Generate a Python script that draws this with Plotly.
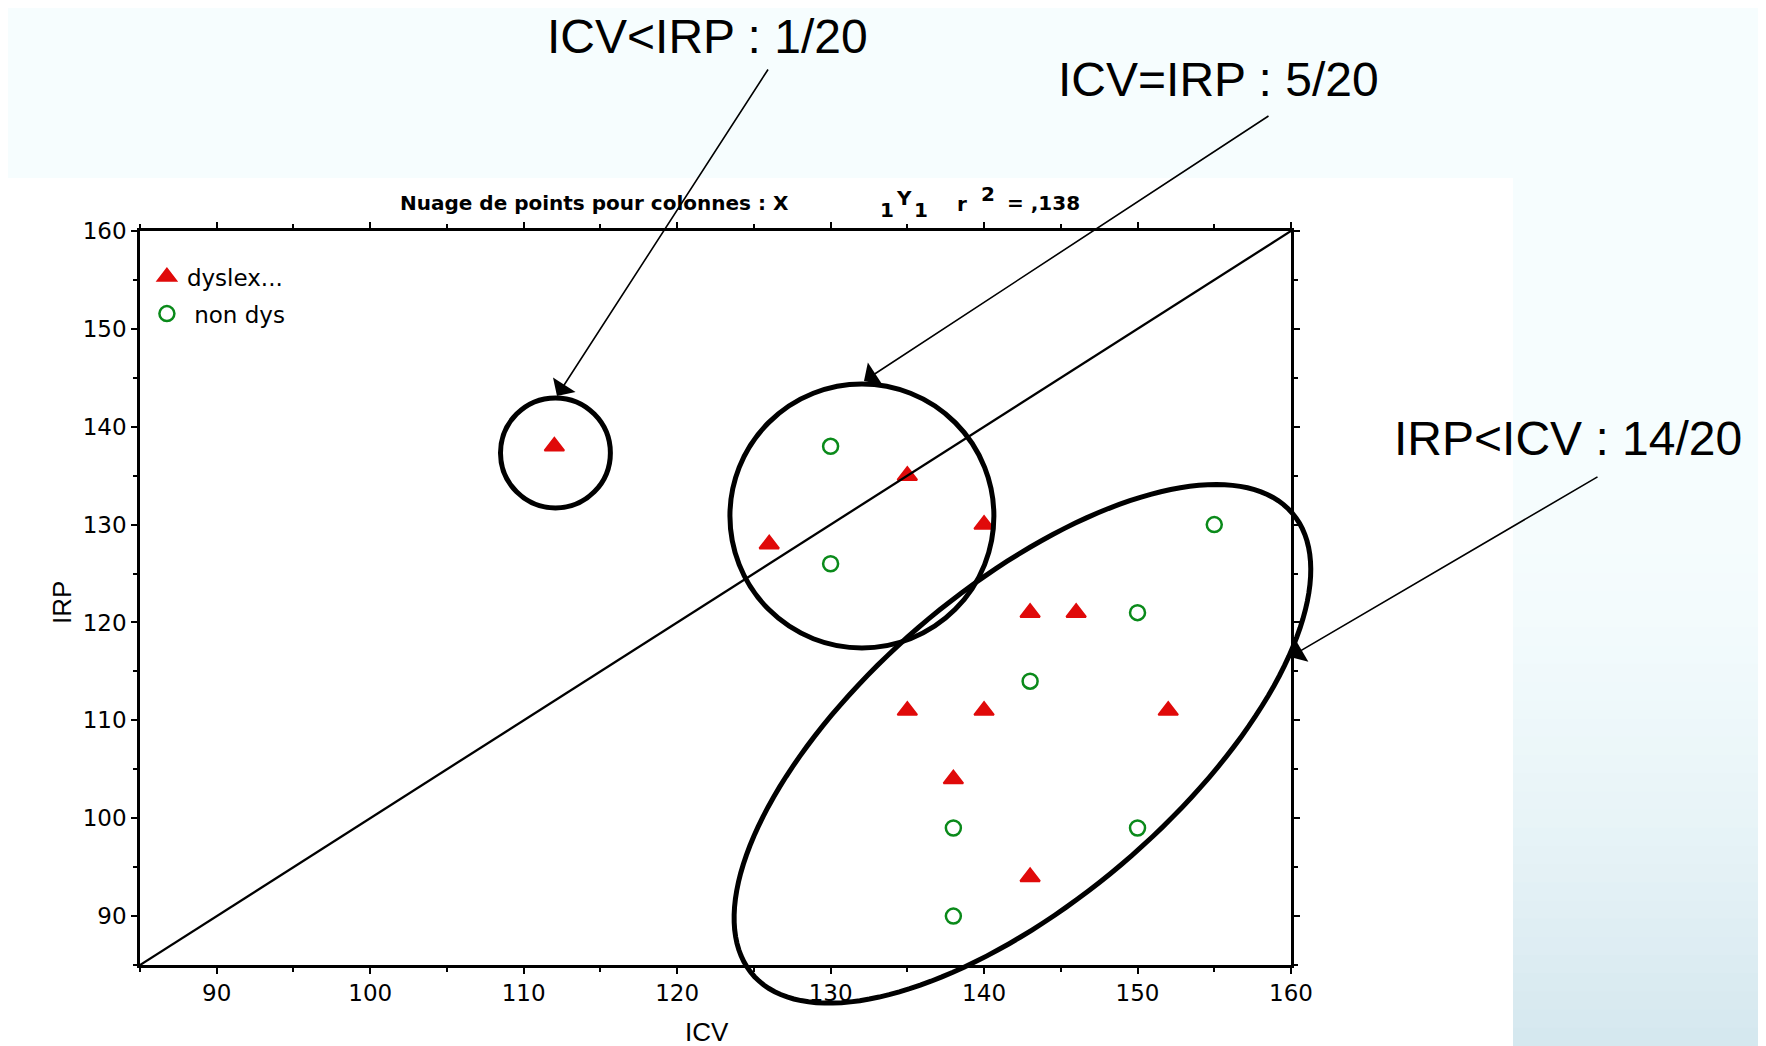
import numpy as np
import plotly.graph_objects as go

# data
dys_icv = [112, 126, 135, 140, 143, 146, 135, 140, 152, 138, 143]
dys_irp = [138, 128, 135, 130, 121, 121, 111, 111, 111, 104, 94]
non_icv = [130, 130, 155, 150, 143, 138, 150, 138]
non_irp = [138, 126, 130, 121, 114, 99, 99, 90]

x_ticks = [90, 100, 110, 120, 130, 140, 150, 160]
y_ticks = [90, 100, 110, 120, 130, 140, 150, 160]
axis_range = [85, 160]

# page has an 8px body margin, so the figure is a bit smaller than the window
OFF = 8
PAGE_W, PAGE_H = 1766, 1046
W, H = PAGE_W - OFF, PAGE_H - OFF
PL, PT, PR, PB = 140, 231, 1291, 965   # plot area in page pixels
L, T = PL - OFF, PT - OFF
R, B = W - (PR - OFF), H - (PB - OFF)
pw, ph = PR - PL, PB - PT


def px2paper(px, py):
    return (px - PL) / pw, (PB - py) / ph


def data2px(x, y):
    span = axis_range[1] - axis_range[0]
    return PL + (x - axis_range[0]) / span * pw, PT + (axis_range[1] - y) / span * ph


fig = go.Figure()
fig.add_trace(go.Scatter(x=dys_icv, y=dys_irp, mode="markers", name="dyslex...",
                         legendgroup="a",
                         marker=dict(symbol="triangle-up", size=17, color="#e00a0a",
                                     line=dict(color="#e00a0a", width=2))))
fig.add_trace(go.Scatter(x=non_icv, y=non_irp, mode="markers", name="\u00a0non dys",
                         legendgroup="b",
                         marker=dict(symbol="circle-open", size=15, color="#0a8a1a",
                                     line=dict(width=2.5))))

shapes = []
# background gradient
top_c = np.array([246, 253, 254])
bot_c = np.array([213, 232, 239])
n = 30
for i in range(n):
    y0 = 500 + i * (PAGE_H - 500) / n
    y1 = 500 + (i + 1) * (PAGE_H - 500) / n
    f = ((i + 0.5) / n) ** 1.6
    c = top_c + (bot_c - top_c) * f
    a0, b0 = px2paper(-5, y1 + 1)
    a1, b1 = px2paper(PAGE_W + 5, y0)
    shapes.append(dict(type="rect", xref="paper", yref="paper", x0=a0, x1=a1, y0=b0, y1=b1,
                       fillcolor="rgb(%d,%d,%d)" % tuple(c), line=dict(width=0), layer="below"))
# white panel
a0, b0 = px2paper(7, PAGE_H + 5)
a1, b1 = px2paper(1513, 178)
shapes.append(dict(type="rect", xref="paper", yref="paper", x0=a0, x1=a1, y0=b0, y1=b1,
                   fillcolor="white", line=dict(width=0), layer="below"))

# identity line
shapes.append(dict(type="line", xref="x", yref="y", x0=85, y0=85, x1=160, y1=160,
                   line=dict(color="black", width=2.3)))

# circles
shapes.append(dict(type="circle", xref="x", yref="y", x0=112.07 - 3.58, x1=112.07 + 3.58,
                   y0=137.32 - 5.62, y1=137.32 + 5.62, line=dict(color="black", width=5)))
shapes.append(dict(type="circle", xref="x", yref="y", x0=132.04 - 8.6, x1=132.04 + 8.6,
                   y0=130.88 - 13.49, y1=130.88 + 13.49, line=dict(color="black", width=5)))

# tilted ellipse (paper coords, it runs past the axis)
cx, cy = data2px(142.5, 107.6)
a, b, th = 355, 156, np.radians(40.5)
t = np.linspace(0, 2 * np.pi, 160)
ex = cx + a * np.cos(t) * np.cos(th) - b * np.sin(t) * np.sin(th)
ey = cy - (a * np.cos(t) * np.sin(th) + b * np.sin(t) * np.cos(th))
pts = [px2paper(u, v) for u, v in zip(ex, ey)]
path = "M " + " L ".join("%.5f,%.5f" % p for p in pts) + " Z"
shapes.append(dict(type="path", xref="paper", yref="paper", path=path,
                   line=dict(color="black", width=5)))

annotations = []
big = dict(family="Liberation Sans", size=48, color="black")
# first label sits against the top edge of the page
xp, _ = px2paper(707, 0)
_, yp = px2paper(0, OFF)
annotations.append(dict(text="ICV&lt;IRP : 1/20", x=xp, y=yp, xref="paper", yref="paper",
                        showarrow=False, xanchor="center", yanchor="top", font=big))
for txt, (px, py) in [("ICV=IRP : 5/20", (1218, 79)),
                      ("IRP&lt;ICV : 14/20", (1568, 438))]:
    xp, yp = px2paper(px, py)
    annotations.append(dict(text=txt, x=xp, y=yp, xref="paper", yref="paper",
                            showarrow=False, xanchor="center", yanchor="middle", font=big))

for (tx, ty), (sx, sy) in [((557, 396), (769, 68)),
                           ((864, 381), (1270, 115)),
                           ((1290, 657), (1599, 476))]:
    xp, yp = px2paper(tx, ty)
    annotations.append(dict(text="", x=xp, y=yp, xref="paper", yref="paper",
                            showarrow=True, ax=sx - tx, ay=sy - ty, axref="pixel", ayref="pixel",
                            arrowhead=1, arrowsize=2.8, arrowwidth=1.6, arrowcolor="black",
                            standoff=0))

tfont = dict(family="DejaVu Sans", size=20, color="black", weight="bold")
for txt, px, py in [("Nuage de points pour colonnes : X", 398, 203),
                    ("1", 878, 210), ("Y", 894, 198), ("1", 912, 210),
                    ("r", 955, 204), ("2", 979, 194), ("= ,138", 1005, 203)]:
    xp, yp = px2paper(px, py)
    annotations.append(dict(text=txt, x=xp, y=yp, xref="paper", yref="paper",
                            showarrow=False, xanchor="left", yanchor="middle", font=tfont))

afont = dict(family="Liberation Sans Narrow, Liberation Sans", size=26, color="black")
xp, yp = px2paper(707, 1032)
annotations.append(dict(text="ICV", x=xp, y=yp, xref="paper", yref="paper",
                        xanchor="center", yanchor="middle", showarrow=False, font=afont))
xp, yp = px2paper(62, 603)
annotations.append(dict(text="IRP", x=xp, y=yp, xref="paper", yref="paper",
                        xanchor="center", yanchor="middle", showarrow=False, font=afont,
                        textangle=-90))

axis_common = dict(range=axis_range, showgrid=False, zeroline=False, showline=True,
                   linecolor="black", linewidth=2.5, mirror="ticks", ticks="outside",
                   ticklen=6, tickwidth=2, tickcolor="black",
                   tickfont=dict(family="DejaVu Sans", size=23, color="black"),
                   minor=dict(tick0=85, dtick=5, ticks="outside", ticklen=4, tickwidth=2,
                              tickcolor="black"))

fig.update_layout(
    width=W, height=H,
    margin=dict(l=L, r=R, t=T, b=B),
    paper_bgcolor="#f6fdfe",
    plot_bgcolor="white",
    xaxis=dict(tickvals=x_ticks, **axis_common),
    yaxis=dict(tickvals=y_ticks, **axis_common),
    shapes=shapes,
    annotations=annotations,
    showlegend=True,
    legend=dict(x=0.006, y=0.967, xanchor="left", yanchor="top", bgcolor="rgba(0,0,0,0)",
                font=dict(family="DejaVu Sans", size=23, color="black"),
                tracegroupgap=4),
)

fig.write_html("out.html")
